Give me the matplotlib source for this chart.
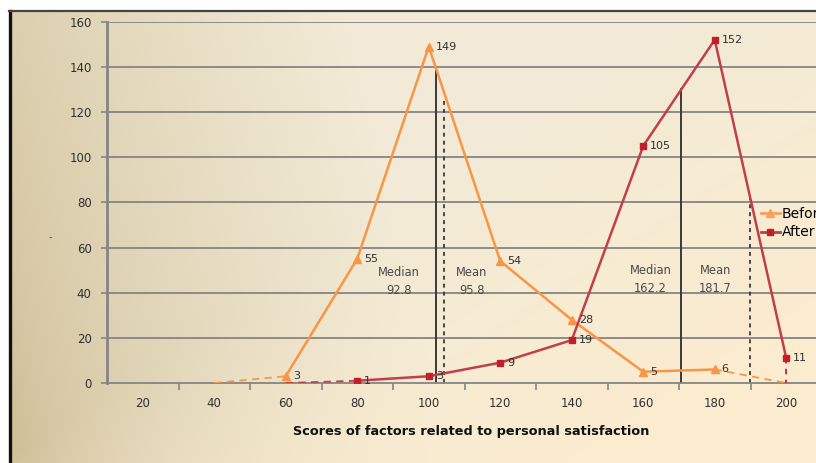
"""Frequency polygons of personal satisfaction scores, before / after"""
import numpy as np
import matplotlib.pyplot as plt
from matplotlib.lines import Line2D

# category axis (scores)
scores = [20, 40, 60, 80, 100, 120, 140, 160, 180, 200]

# before: solid part + dashed tails
before_x = [60, 80, 100, 120, 140, 160, 180]
before_y = [3, 55, 149, 54, 28, 5, 6]
before_tail_l = ([40, 60], [0, 3])
before_tail_r = ([180, 200], [6, 0])

# after: solid part + dashed tails
after_x = [80, 100, 120, 140, 160, 180, 200]
after_y = [1, 3, 9, 19, 105, 152, 11]
after_tail_l = ([60, 80], [0, 1])
after_tail_r = ([200, 200], [11, 0])

# median / mean marker lines (where they were drawn on the chart, height) and captions
stat_pos = [102.0, 104.2, 170.6, 189.8]
stat_top = [138, 126, 130, 83]
stat_dashed = [False, True, False, True]
stat_text = ["Median\n92.8", "Mean\n95.8", "Median\n162.2", "Mean\n181.7"]
stat_text_x = [91.6, 112.0, 162.0, 180.2]
stat_text_y = [45, 45, 46, 46]

yticks = [0, 20, 40, 60, 80, 100, 120, 140, 160]

ORANGE = "#F79646"
RED = "#C0404A"
GRID = "#858585"
TXT = "#303030"


def pos(s):
    # score -> category index position
    return (np.asarray(s, dtype=float) - scores[0]) / 20.0


W, H = 816, 463
fig = plt.figure(figsize=(W / 100, H / 100), dpi=100)
fig.patch.set_facecolor("white")

#------------------------------------------------------------------------------
# background gradient
bg = fig.add_axes([12 / W, 0, 1 - 12 / W, 1 - 12 / H])
gx, gy = np.meshgrid(np.linspace(0, 1, 300), np.linspace(0, 1, 200))
t = np.clip(gx * 1.9 + (1 - gy) * 0.25 - 0.05, 0, 1)
t = t ** 0.7
dark = np.array([0.82, 0.76, 0.61])
light = np.array([0.95, 0.92, 0.84])
peach = np.array([0.985, 0.925, 0.815])
img = dark[None, None, :] * (1 - t[..., None]) + light[None, None, :] * t[..., None]
p = np.clip((gx - 0.5) * 1.4 + (gy - 0.4) * 1.2, 0, 1)[..., None]
img = img * (1 - p) + peach[None, None, :] * p
bg.imshow(img, aspect="auto", extent=[0, 1, 0, 1], origin="upper")
bg.set_axis_off()

# frame (left and top)
fig.add_artist(Line2D([9.5 / W, 9.5 / W], [0, 1 - 11 / H], color="#111111", lw=2.4))
fig.add_artist(Line2D([8.5 / W, 1], [1 - 11 / H, 1 - 11 / H], color="#444444", lw=1.6))

#------------------------------------------------------------------------------
ax = fig.add_axes([107 / W, 1 - 383 / H, (822 - 107) / W, (383 - 21.7) / H])
ax.patch.set_alpha(0)
ax.set_xlim(-0.5, len(scores) - 0.5)
ax.set_ylim(0, 160)

for v in yticks[1:]:
    ax.axhline(v, color=GRID, lw=1.3, zorder=1)

ax.set_yticks(yticks)
ax.set_xticks(np.arange(len(scores)))
ax.set_xticklabels([str(s) for s in scores])
ax.set_xticks(np.arange(len(scores)) + 0.5, minor=True)
ax.tick_params(axis="x", which="major", length=0, pad=10, labelsize=8.5, labelcolor=TXT)
ax.tick_params(axis="x", which="minor", length=5, width=1.2, color=GRID, direction="out")
ax.tick_params(axis="y", length=4, width=1.2, color=GRID, labelsize=8.5, labelcolor=TXT, pad=7)
for side in ["top", "right"]:
    ax.spines[side].set_visible(False)
ax.spines["left"].set_color(GRID)
ax.spines["left"].set_linewidth(2)
ax.spines["bottom"].set_color(GRID)
ax.spines["bottom"].set_linewidth(1.3)

# median / mean lines
for xs, top, dashed in zip(stat_pos, stat_top, stat_dashed):
    ax.plot([pos(xs), pos(xs)], [0, top], color="#3a3a3a",
            lw=1.4 if not dashed else 1.3,
            ls=(0, (2.2, 2.2)) if dashed else "-", zorder=2)
for s, tx, ty in zip(stat_text, stat_text_x, stat_text_y):
    ax.text(pos(tx), ty, s, ha="center", va="center", fontsize=8.3,
            color="#4a4a4a", linespacing=1.5, zorder=3)

# dashed tails
ax.plot(pos(before_tail_l[0]), before_tail_l[1], color=ORANGE, lw=1.3, ls=(0, (4, 3)), zorder=3)
ax.plot(pos(before_tail_r[0]), before_tail_r[1], color=ORANGE, lw=1.3, ls=(0, (4, 3)), zorder=3)
ax.plot(pos(after_tail_l[0]), after_tail_l[1], color=RED, lw=1.3, ls=(0, (4, 3)), zorder=3)
ax.plot(pos(after_tail_r[0]), after_tail_r[1], color="#D02020", lw=1.3, ls=(0, (3, 3)), zorder=3)

# series
ax.plot(pos(before_x), before_y, color=ORANGE, lw=1.8, marker="^", ms=6,
        mec=ORANGE, mfc=ORANGE, zorder=4, label="Before")
ax.plot(pos(after_x), after_y, color=RED, lw=1.8, marker="s", ms=4.5,
        mec="#C0202A", mfc="#C0202A", zorder=4, label="After")

# data labels
for xs, ys in [(before_x, before_y), (after_x, after_y)]:
    for a, b in zip(xs, ys):
        ax.annotate(str(b), (pos(a), b), xytext=(5, 0), textcoords="offset points",
                    ha="left", va="center", fontsize=8, color=TXT, zorder=5)

ax.set_xlabel("Scores of factors related to personal satisfaction", fontsize=9.3,
              fontweight="bold", color="#111111")
ax.xaxis.set_label_coords((471 - 107) / (822 - 107), -0.115)

# stray axis title
fig.text(50 / W, 1 - 237 / H, "-", fontsize=7, color="#555555", ha="center", va="center")

# legend (cut off by the image edge, as in the original)
handles = [
    Line2D([], [], color="#F9A060", lw=2, marker="^", ms=6, mfc="#F9A060", mec="#F9A060"),
    Line2D([], [], color=RED, lw=2, marker="s", ms=4.5, mfc="#C0202A", mec="#C0202A"),
]
fig.legend(handles, ["Before", "After"], loc="upper left",
           bbox_to_anchor=(755 / W, 1 - 201 / H), frameon=False, fontsize=10,
           handlelength=1.4, handletextpad=0.15, labelspacing=0.35, borderaxespad=0)

fig.savefig("out.png", dpi=100)
